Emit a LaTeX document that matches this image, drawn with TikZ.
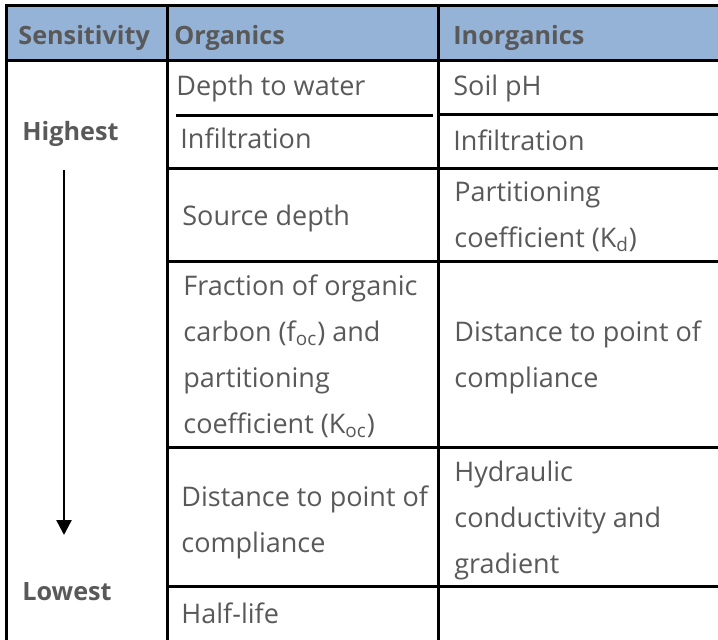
\documentclass[tikz,border=0pt]{standalone}
\usepackage{fontspec}
\setmainfont{Open Sans}
\usetikzlibrary{arrows.meta,positioning}
\definecolor{headblue}{RGB}{149,179,215}
\definecolor{textgray}{RGB}{89,89,89}

\begin{document}
\begin{tikzpicture}[
    x=0.5pt, y=-0.5pt,
    every node/.style={inner sep=0pt, anchor=base west, text=textgray, font=\fontsize{13.5}{23}\selectfont},
    head/.style={font=\fontsize{12.6}{23}\selectfont\bfseries},
    cell/.style={align=left},
    rule/.style={line width=1.5pt, line cap=rect},
    trend/.style={line width=1.25pt, -{Triangle[width=7.5pt,length=7.5pt]}}
    ]
    \useasboundingbox (0,0) rectangle (718,639);
    % Header
    \fill[headblue] (6,5) rectangle (718,60);
    \node[head] (hsens) at (18,44) {Sensitivity};
    \node[head] (horg) at (174,44) {Organics};
    \node[head] (hinorg) at (453,44) {Inorganics};
    % Grid
    \draw[rule] (718,5) -- (6,5) -- (6,639);
    \draw[rule] (6,60) -- (718,60);
    \draw[rule] (167,5) -- (167,639);
    \draw[rule] (438,5) -- (438,639);
    \draw[rule] (177,115) -- (431,115);
    \draw[rule] (438,114) -- (718,114);
    \foreach \y in {168,261,447,586}
        \draw[rule] (167,\y) -- (718,\y);
    % Sensitivity
    \node[head] (high) at (22,140) {Highest};
    \node[head] (low) at (22,600) {Lowest};
    \coordinate (arrtop) at (64,170);
    \coordinate (arrbot) at (64,535);
    \draw[trend] (arrtop) -- (arrbot);
    % Organics (multi-line cells sit on their last baseline)
    \node (org1) at (176,95) {Depth to water};
    \node (org2) at (180,148) {Infiltration};
    \node (org3) at (182,225) {Source depth};
    \node[cell] (org4) at (183,433) {Fraction of organic\\carbon (f\textsubscript{oc}) and\\partitioning\\coefficient (K\textsubscript{oc})};
    \node[cell] (org5) at (181,552) {Distance to point of\\compliance};
    \node (org6) at (181,623) {Half-life};
    % Inorganics
    \node (inorg1) at (453,95) {Soil pH};
    \node (inorg2) at (453,150) {Infiltration};
    \node[cell] (inorg3) at (454,247) {Partitioning\\coefficient (K\textsubscript{d})};
    \node[cell] (inorg4) at (454,387) {Distance to point of\\compliance};
    \node[cell] (inorg5) at (454,573) {Hydraulic\\conductivity and\\gradient};
\end{tikzpicture}
\end{document}
